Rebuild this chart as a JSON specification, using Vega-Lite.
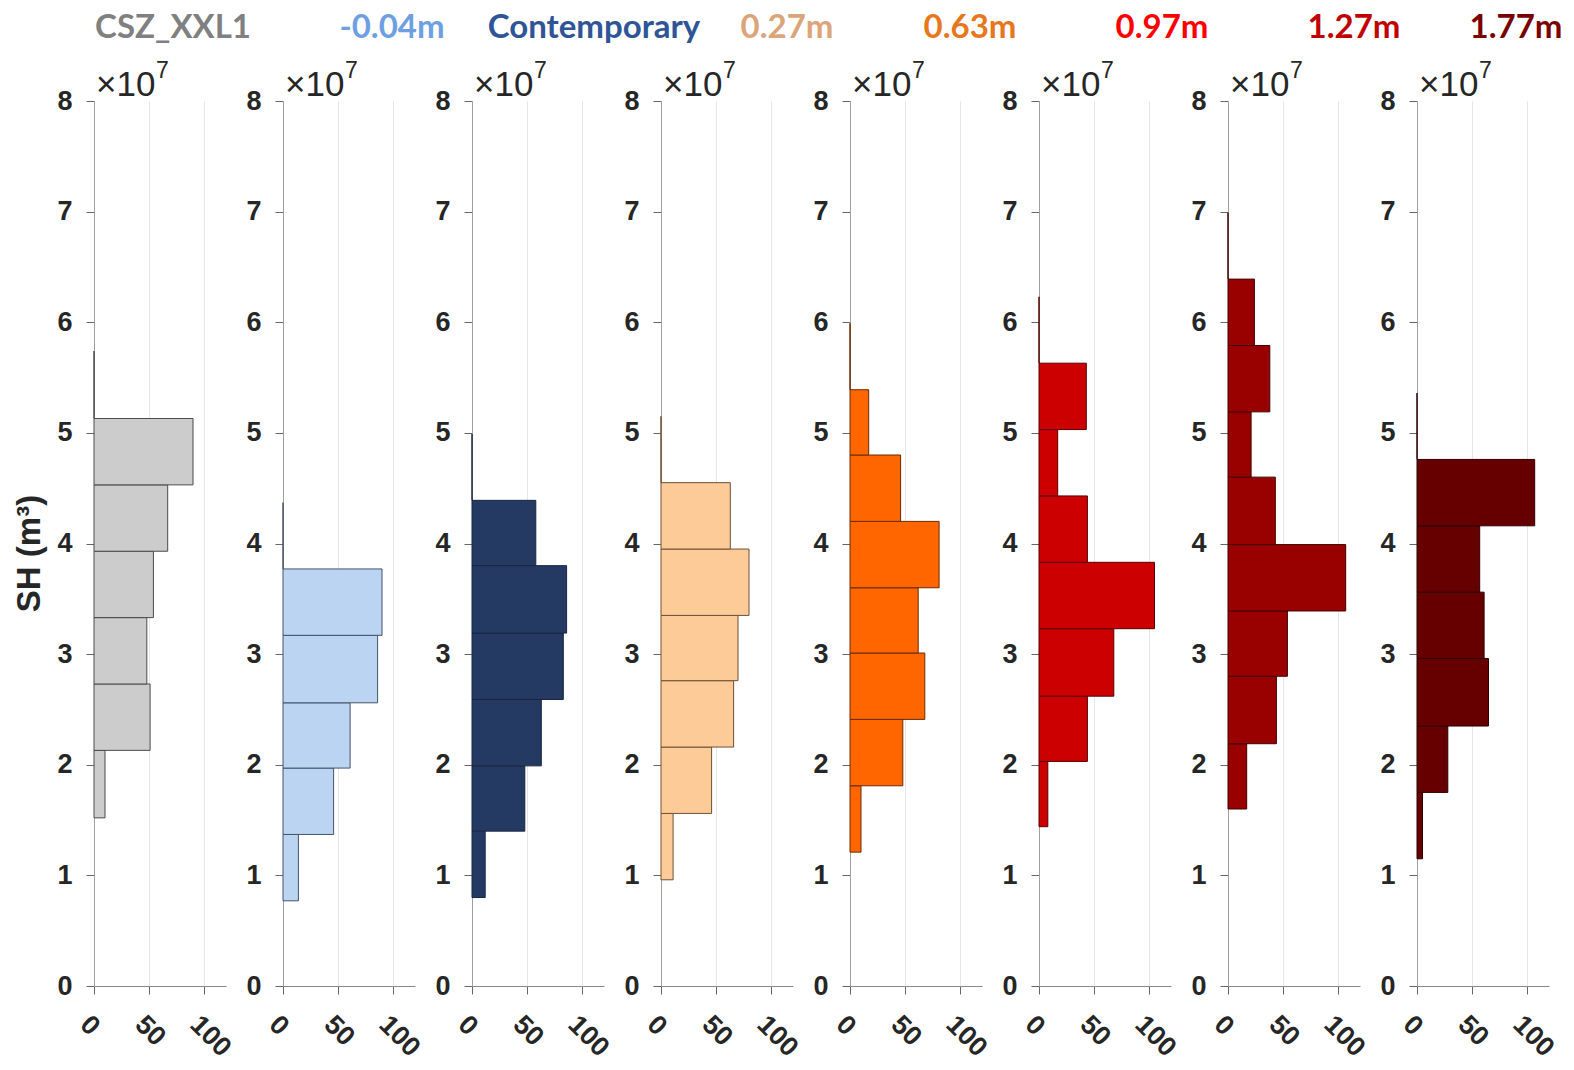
{
  "$schema": "https://vega.github.io/schema/vega-lite/v6.json",
  "background": "white",
  "padding": {"left": 13, "top": 12, "right": 5, "bottom": 5},
  "datasets": {
    "bins": [
      {"panel": "CSZ_XXL1", "lo": 1.52, "hi": 2.13, "n": 10},
      {"panel": "CSZ_XXL1", "lo": 2.13, "hi": 2.73, "n": 51},
      {"panel": "CSZ_XXL1", "lo": 2.73, "hi": 3.33, "n": 48},
      {"panel": "CSZ_XXL1", "lo": 3.33, "hi": 3.93, "n": 54},
      {"panel": "CSZ_XXL1", "lo": 3.93, "hi": 4.53, "n": 67},
      {"panel": "CSZ_XXL1", "lo": 4.53, "hi": 5.13, "n": 90},
      {"panel": "CSZ_XXL1", "lo": 5.13, "hi": 5.74, "n": 0},

      {"panel": "-0.04m", "lo": 0.77, "hi": 1.37, "n": 14},
      {"panel": "-0.04m", "lo": 1.37, "hi": 1.97, "n": 46},
      {"panel": "-0.04m", "lo": 1.97, "hi": 2.56, "n": 61},
      {"panel": "-0.04m", "lo": 2.56, "hi": 3.17, "n": 86},
      {"panel": "-0.04m", "lo": 3.17, "hi": 3.77, "n": 90},
      {"panel": "-0.04m", "lo": 3.77, "hi": 4.37, "n": 0},

      {"panel": "Contemporary", "lo": 0.80, "hi": 1.40, "n": 12},
      {"panel": "Contemporary", "lo": 1.40, "hi": 1.99, "n": 48},
      {"panel": "Contemporary", "lo": 1.99, "hi": 2.59, "n": 63},
      {"panel": "Contemporary", "lo": 2.59, "hi": 3.19, "n": 83},
      {"panel": "Contemporary", "lo": 3.19, "hi": 3.80, "n": 86},
      {"panel": "Contemporary", "lo": 3.80, "hi": 4.39, "n": 58},
      {"panel": "Contemporary", "lo": 4.39, "hi": 4.99, "n": 0},

      {"panel": "0.27m", "lo": 0.96, "hi": 1.56, "n": 11},
      {"panel": "0.27m", "lo": 1.56, "hi": 2.16, "n": 46},
      {"panel": "0.27m", "lo": 2.16, "hi": 2.76, "n": 66},
      {"panel": "0.27m", "lo": 2.76, "hi": 3.35, "n": 70},
      {"panel": "0.27m", "lo": 3.35, "hi": 3.95, "n": 80},
      {"panel": "0.27m", "lo": 3.95, "hi": 4.55, "n": 63},
      {"panel": "0.27m", "lo": 4.55, "hi": 5.15, "n": 0},

      {"panel": "0.63m", "lo": 1.21, "hi": 1.81, "n": 10},
      {"panel": "0.63m", "lo": 1.81, "hi": 2.41, "n": 48},
      {"panel": "0.63m", "lo": 2.41, "hi": 3.01, "n": 68},
      {"panel": "0.63m", "lo": 3.01, "hi": 3.60, "n": 62},
      {"panel": "0.63m", "lo": 3.60, "hi": 4.20, "n": 81},
      {"panel": "0.63m", "lo": 4.20, "hi": 4.80, "n": 46},
      {"panel": "0.63m", "lo": 4.80, "hi": 5.39, "n": 17},
      {"panel": "0.63m", "lo": 5.39, "hi": 5.99, "n": 0},

      {"panel": "0.97m", "lo": 1.44, "hi": 2.03, "n": 8},
      {"panel": "0.97m", "lo": 2.03, "hi": 2.62, "n": 44},
      {"panel": "0.97m", "lo": 2.62, "hi": 3.23, "n": 68},
      {"panel": "0.97m", "lo": 3.23, "hi": 3.83, "n": 105},
      {"panel": "0.97m", "lo": 3.83, "hi": 4.43, "n": 44},
      {"panel": "0.97m", "lo": 4.43, "hi": 5.03, "n": 17},
      {"panel": "0.97m", "lo": 5.03, "hi": 5.63, "n": 43},
      {"panel": "0.97m", "lo": 5.63, "hi": 6.23, "n": 0},

      {"panel": "1.27m", "lo": 1.60, "hi": 2.19, "n": 17},
      {"panel": "1.27m", "lo": 2.19, "hi": 2.80, "n": 44},
      {"panel": "1.27m", "lo": 2.80, "hi": 3.39, "n": 54},
      {"panel": "1.27m", "lo": 3.39, "hi": 3.99, "n": 107},
      {"panel": "1.27m", "lo": 3.99, "hi": 4.60, "n": 43},
      {"panel": "1.27m", "lo": 4.60, "hi": 5.19, "n": 21},
      {"panel": "1.27m", "lo": 5.19, "hi": 5.79, "n": 38},
      {"panel": "1.27m", "lo": 5.79, "hi": 6.39, "n": 24},
      {"panel": "1.27m", "lo": 6.39, "hi": 6.99, "n": 0},

      {"panel": "1.77m", "lo": 1.15, "hi": 1.75, "n": 5},
      {"panel": "1.77m", "lo": 1.75, "hi": 2.35, "n": 28},
      {"panel": "1.77m", "lo": 2.35, "hi": 2.96, "n": 65},
      {"panel": "1.77m", "lo": 2.96, "hi": 3.56, "n": 61},
      {"panel": "1.77m", "lo": 3.56, "hi": 4.16, "n": 57},
      {"panel": "1.77m", "lo": 4.16, "hi": 4.76, "n": 107},
      {"panel": "1.77m", "lo": 4.76, "hi": 5.36, "n": 0}
    ],
    "exponent": [{"base": "×10", "power": "7"}]
  },
  "spacing": 57,
  "bounds": "flush",
  "hconcat": [
    {
      "width": 132, "height": 885,
      "title": {"text": "CSZ_XXL1", "color": "#808080", "dx": 13},
      "layer": [
        {
          "data": {"name": "bins"},
          "transform": [{"filter": "datum.panel === 'CSZ_XXL1'"}],
          "mark": {"type": "bar", "fill": "#cccccc", "stroke": "#4a4a4a", "strokeWidth": 1},
          "encoding": {
            "y": {"field": "lo", "type": "quantitative", "scale": {"domain": [0, 8]}, "axis": {"values": [0, 1, 2, 3, 4, 5, 6, 7, 8], "format": "d", "title": "SH (m³)", "titleY": 452}},
            "y2": {"field": "hi"},
            "x": {"field": "n", "type": "quantitative", "scale": {"domain": [0, 120]}, "axis": {"values": [0, 50, 100], "title": null}},
            "x2": {"datum": 0}
          }
        },
        {"data": {"name": "exponent"}, "mark": {"type": "text", "style": "expbase"}, "encoding": {"x": {"datum": 0, "type": "quantitative"}, "y": {"datum": 8, "type": "quantitative"}, "text": {"field": "base"}}},
        {"data": {"name": "exponent"}, "mark": {"type": "text", "style": "exppow"}, "encoding": {"x": {"datum": 0, "type": "quantitative"}, "y": {"datum": 8, "type": "quantitative"}, "text": {"field": "power"}}}
      ]
    },
    {
      "width": 132, "height": 885,
      "title": {"text": "-0.04m", "color": "#6f9fe3", "dx": 43},
      "layer": [
        {
          "data": {"name": "bins"},
          "transform": [{"filter": "datum.panel === '-0.04m'"}],
          "mark": {"type": "bar", "fill": "#bad4f2", "stroke": "#44536a", "strokeWidth": 1},
          "encoding": {
            "y": {"field": "lo", "type": "quantitative", "scale": {"domain": [0, 8]}, "axis": {"values": [0, 1, 2, 3, 4, 5, 6, 7, 8], "format": "d", "title": null}},
            "y2": {"field": "hi"},
            "x": {"field": "n", "type": "quantitative", "scale": {"domain": [0, 120]}, "axis": {"values": [0, 50, 100], "title": null}},
            "x2": {"datum": 0}
          }
        },
        {"data": {"name": "exponent"}, "mark": {"type": "text", "style": "expbase"}, "encoding": {"x": {"datum": 0, "type": "quantitative"}, "y": {"datum": 8, "type": "quantitative"}, "text": {"field": "base"}}},
        {"data": {"name": "exponent"}, "mark": {"type": "text", "style": "exppow"}, "encoding": {"x": {"datum": 0, "type": "quantitative"}, "y": {"datum": 8, "type": "quantitative"}, "text": {"field": "power"}}}
      ]
    },
    {
      "width": 132, "height": 885,
      "title": {"text": "Contemporary", "color": "#2f5597", "dx": 56},
      "layer": [
        {
          "data": {"name": "bins"},
          "transform": [{"filter": "datum.panel === 'Contemporary'"}],
          "mark": {"type": "bar", "fill": "#253a63", "stroke": "#1a2540", "strokeWidth": 1},
          "encoding": {
            "y": {"field": "lo", "type": "quantitative", "scale": {"domain": [0, 8]}, "axis": {"values": [0, 1, 2, 3, 4, 5, 6, 7, 8], "format": "d", "title": null}},
            "y2": {"field": "hi"},
            "x": {"field": "n", "type": "quantitative", "scale": {"domain": [0, 120]}, "axis": {"values": [0, 50, 100], "title": null}},
            "x2": {"datum": 0}
          }
        },
        {"data": {"name": "exponent"}, "mark": {"type": "text", "style": "expbase"}, "encoding": {"x": {"datum": 0, "type": "quantitative"}, "y": {"datum": 8, "type": "quantitative"}, "text": {"field": "base"}}},
        {"data": {"name": "exponent"}, "mark": {"type": "text", "style": "exppow"}, "encoding": {"x": {"datum": 0, "type": "quantitative"}, "y": {"datum": 8, "type": "quantitative"}, "text": {"field": "power"}}}
      ]
    },
    {
      "width": 132, "height": 885,
      "title": {"text": "0.27m", "color": "#dba47a", "dx": 60},
      "layer": [
        {
          "data": {"name": "bins"},
          "transform": [{"filter": "datum.panel === '0.27m'"}],
          "mark": {"type": "bar", "fill": "#fdcb98", "stroke": "#6e5036", "strokeWidth": 1},
          "encoding": {
            "y": {"field": "lo", "type": "quantitative", "scale": {"domain": [0, 8]}, "axis": {"values": [0, 1, 2, 3, 4, 5, 6, 7, 8], "format": "d", "title": null}},
            "y2": {"field": "hi"},
            "x": {"field": "n", "type": "quantitative", "scale": {"domain": [0, 120]}, "axis": {"values": [0, 50, 100], "title": null}},
            "x2": {"datum": 0}
          }
        },
        {"data": {"name": "exponent"}, "mark": {"type": "text", "style": "expbase"}, "encoding": {"x": {"datum": 0, "type": "quantitative"}, "y": {"datum": 8, "type": "quantitative"}, "text": {"field": "base"}}},
        {"data": {"name": "exponent"}, "mark": {"type": "text", "style": "exppow"}, "encoding": {"x": {"datum": 0, "type": "quantitative"}, "y": {"datum": 8, "type": "quantitative"}, "text": {"field": "power"}}}
      ]
    },
    {
      "width": 132, "height": 885,
      "title": {"text": "0.63m", "color": "#e8761c", "dx": 54},
      "layer": [
        {
          "data": {"name": "bins"},
          "transform": [{"filter": "datum.panel === '0.63m'"}],
          "mark": {"type": "bar", "fill": "#ff6600", "stroke": "#6a2a00", "strokeWidth": 1},
          "encoding": {
            "y": {"field": "lo", "type": "quantitative", "scale": {"domain": [0, 8]}, "axis": {"values": [0, 1, 2, 3, 4, 5, 6, 7, 8], "format": "d", "title": null}},
            "y2": {"field": "hi"},
            "x": {"field": "n", "type": "quantitative", "scale": {"domain": [0, 120]}, "axis": {"values": [0, 50, 100], "title": null}},
            "x2": {"datum": 0}
          }
        },
        {"data": {"name": "exponent"}, "mark": {"type": "text", "style": "expbase"}, "encoding": {"x": {"datum": 0, "type": "quantitative"}, "y": {"datum": 8, "type": "quantitative"}, "text": {"field": "base"}}},
        {"data": {"name": "exponent"}, "mark": {"type": "text", "style": "exppow"}, "encoding": {"x": {"datum": 0, "type": "quantitative"}, "y": {"datum": 8, "type": "quantitative"}, "text": {"field": "power"}}}
      ]
    },
    {
      "width": 132, "height": 885,
      "title": {"text": "0.97m", "color": "#ff0000", "dx": 57},
      "layer": [
        {
          "data": {"name": "bins"},
          "transform": [{"filter": "datum.panel === '0.97m'"}],
          "mark": {"type": "bar", "fill": "#cc0000", "stroke": "#550000", "strokeWidth": 1},
          "encoding": {
            "y": {"field": "lo", "type": "quantitative", "scale": {"domain": [0, 8]}, "axis": {"values": [0, 1, 2, 3, 4, 5, 6, 7, 8], "format": "d", "title": null}},
            "y2": {"field": "hi"},
            "x": {"field": "n", "type": "quantitative", "scale": {"domain": [0, 120]}, "axis": {"values": [0, 50, 100], "title": null}},
            "x2": {"datum": 0}
          }
        },
        {"data": {"name": "exponent"}, "mark": {"type": "text", "style": "expbase"}, "encoding": {"x": {"datum": 0, "type": "quantitative"}, "y": {"datum": 8, "type": "quantitative"}, "text": {"field": "base"}}},
        {"data": {"name": "exponent"}, "mark": {"type": "text", "style": "exppow"}, "encoding": {"x": {"datum": 0, "type": "quantitative"}, "y": {"datum": 8, "type": "quantitative"}, "text": {"field": "power"}}}
      ]
    },
    {
      "width": 132, "height": 885,
      "title": {"text": "1.27m", "color": "#c00000", "dx": 60},
      "layer": [
        {
          "data": {"name": "bins"},
          "transform": [{"filter": "datum.panel === '1.27m'"}],
          "mark": {"type": "bar", "fill": "#990000", "stroke": "#400000", "strokeWidth": 1},
          "encoding": {
            "y": {"field": "lo", "type": "quantitative", "scale": {"domain": [0, 8]}, "axis": {"values": [0, 1, 2, 3, 4, 5, 6, 7, 8], "format": "d", "title": null}},
            "y2": {"field": "hi"},
            "x": {"field": "n", "type": "quantitative", "scale": {"domain": [0, 120]}, "axis": {"values": [0, 50, 100], "title": null}},
            "x2": {"datum": 0}
          }
        },
        {"data": {"name": "exponent"}, "mark": {"type": "text", "style": "expbase"}, "encoding": {"x": {"datum": 0, "type": "quantitative"}, "y": {"datum": 8, "type": "quantitative"}, "text": {"field": "base"}}},
        {"data": {"name": "exponent"}, "mark": {"type": "text", "style": "exppow"}, "encoding": {"x": {"datum": 0, "type": "quantitative"}, "y": {"datum": 8, "type": "quantitative"}, "text": {"field": "power"}}}
      ]
    },
    {
      "width": 132, "height": 885,
      "title": {"text": "1.77m", "color": "#7a0000", "dx": 33},
      "layer": [
        {
          "data": {"name": "bins"},
          "transform": [{"filter": "datum.panel === '1.77m'"}],
          "mark": {"type": "bar", "fill": "#660000", "stroke": "#2e0000", "strokeWidth": 1},
          "encoding": {
            "y": {"field": "lo", "type": "quantitative", "scale": {"domain": [0, 8]}, "axis": {"values": [0, 1, 2, 3, 4, 5, 6, 7, 8], "format": "d", "title": null}},
            "y2": {"field": "hi"},
            "x": {"field": "n", "type": "quantitative", "scale": {"domain": [0, 120]}, "axis": {"values": [0, 50, 100], "title": null}},
            "x2": {"datum": 0}
          }
        },
        {"data": {"name": "exponent"}, "mark": {"type": "text", "style": "expbase"}, "encoding": {"x": {"datum": 0, "type": "quantitative"}, "y": {"datum": 8, "type": "quantitative"}, "text": {"field": "base"}}},
        {"data": {"name": "exponent"}, "mark": {"type": "text", "style": "exppow"}, "encoding": {"x": {"datum": 0, "type": "quantitative"}, "y": {"datum": 8, "type": "quantitative"}, "text": {"field": "power"}}}
      ]
    }
  ],
  "config": {
    "view": {"stroke": null},
    "title": {
      "font": "Lato",
      "fontSize": 33,
      "fontWeight": "bold",
      "anchor": "middle",
      "frame": "group",
      "baseline": "alphabetic",
      "offset": 15
    },
    "style": {
      "expbase": {"font": "Liberation Sans", "fontSize": 35, "align": "left", "baseline": "alphabetic", "dx": 2, "dy": -5, "color": "#262626"},
      "exppow": {"font": "Liberation Sans", "fontSize": 23, "align": "left", "baseline": "alphabetic", "dx": 62, "dy": -23, "color": "#262626"}
    },
    "axisY": {
      "grid": false,
      "labelFont": "Liberation Sans",
      "labelFontSize": 27,
      "labelFontWeight": "bold",
      "labelColor": "#262626",
      "labelPadding": 14,
      "tickSize": 8,
      "tickColor": "#666666",
      "domainColor": "#a0a0a0",
      "titleFont": "Liberation Sans",
      "titleFontSize": 33,
      "titleFontWeight": "bold",
      "titleColor": "#262626",
      "titlePadding": 10
    },
    "axisX": {
      "grid": true,
      "gridColor": "#e6e6e6",
      "labelFont": "Liberation Sans",
      "labelFontSize": 27,
      "labelFontWeight": "bold",
      "labelColor": "#262626",
      "labelAngle": 45,
      "labelAlign": "left",
      "labelBaseline": "middle",
      "labelOffset": -10,
      "labelPadding": 26,
      "tickSize": 8,
      "tickColor": "#666666",
      "domainColor": "#888888"
    }
  }
}
